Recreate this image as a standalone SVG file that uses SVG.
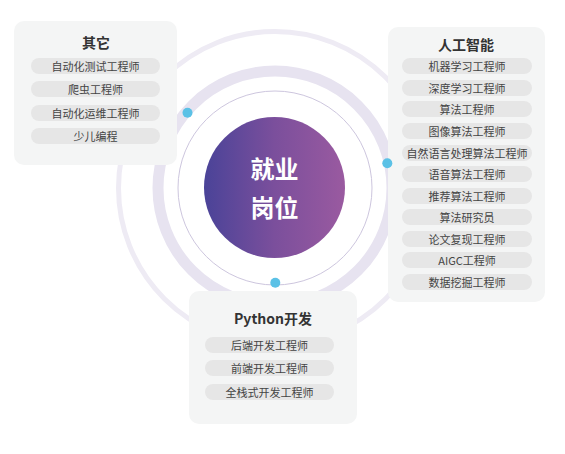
<svg xmlns="http://www.w3.org/2000/svg" width="565" height="454" viewBox="0 0 565 454">
<defs>
<linearGradient id="cg" x1="0" y1="0" x2="1" y2="0">
<stop offset="0" stop-color="#4a4398"/>
<stop offset="0.5" stop-color="#7b4f9c"/>
<stop offset="1" stop-color="#9a5aa0"/>
</linearGradient>
<style>
.box{fill:#f4f5f5;}
.pill{fill:#e6e6e6;}
.t{font-family:"Noto Sans CJK SC","Noto Sans",sans-serif;font-size:11px;fill:#444;text-anchor:middle;dominant-baseline:central;}
.h{font-family:"Noto Sans CJK SC","Noto Sans",sans-serif;font-size:14px;font-weight:bold;fill:#333;text-anchor:middle;dominant-baseline:central;}
.c{font-family:"Noto Sans CJK SC","Noto Sans",sans-serif;font-size:24px;font-weight:bold;fill:#fff;text-anchor:middle;dominant-baseline:central;}
.dot{fill:#5bc1e6;}
</style>
</defs>
<rect width="565" height="454" fill="#fff"/>
<g id="rings">
<circle cx="275" cy="188" r="156.5" fill="none" stroke="#eeebf4" stroke-width="5"/>
<circle cx="275" cy="188" r="117" fill="none" stroke="#e7e3f0" stroke-width="11"/>
<circle cx="275" cy="188" r="97" fill="none" stroke="#cdc6de" stroke-width="1"/>
</g>
<g id="center">
<circle cx="274.5" cy="187.5" r="70.5" fill="url(#cg)"/>
<text class="c" x="274.5" y="167">就业</text>
<text class="c" x="274.5" y="206">岗位</text>
</g>
<g id="node-other">
<rect class="box" x="14" y="21" width="163" height="144" rx="10"/>
<text class="h" x="96" y="42">其它</text>
<rect class="pill" x="31" y="58" width="129" height="16" rx="8"/>
<text class="t" x="95.5" y="66">自动化测试工程师</text>
<rect class="pill" x="31" y="81" width="129" height="16" rx="8"/>
<text class="t" x="95.5" y="89">爬虫工程师</text>
<rect class="pill" x="31" y="105" width="129" height="16" rx="8"/>
<text class="t" x="95.5" y="113">自动化运维工程师</text>
<rect class="pill" x="31" y="128" width="129" height="16" rx="8"/>
<text class="t" x="95.5" y="136">少儿编程</text>
</g>
<g id="node-ai">
<rect class="box" x="388" y="27" width="157" height="275" rx="10"/>
<text class="h" x="466" y="44">人工智能</text>
<rect class="pill" x="402" y="58" width="130" height="16" rx="8"/>
<text class="t" x="467" y="66">机器学习工程师</text>
<rect class="pill" x="402" y="80" width="130" height="16" rx="8"/>
<text class="t" x="467" y="88">深度学习工程师</text>
<rect class="pill" x="402" y="101" width="130" height="16" rx="8"/>
<text class="t" x="467" y="109">算法工程师</text>
<rect class="pill" x="402" y="123" width="130" height="16" rx="8"/>
<text class="t" x="467" y="131">图像算法工程师</text>
<rect class="pill" x="402" y="145" width="130" height="16" rx="8"/>
<text class="t" x="467" y="153">自然语言处理算法工程师</text>
<rect class="pill" x="402" y="166" width="130" height="16" rx="8"/>
<text class="t" x="467" y="174">语音算法工程师</text>
<rect class="pill" x="402" y="188" width="130" height="16" rx="8"/>
<text class="t" x="467" y="196">推荐算法工程师</text>
<rect class="pill" x="402" y="209" width="130" height="16" rx="8"/>
<text class="t" x="467" y="217">算法研究员</text>
<rect class="pill" x="402" y="231" width="130" height="16" rx="8"/>
<text class="t" x="467" y="239">论文复现工程师</text>
<rect class="pill" x="402" y="252" width="130" height="16" rx="8"/>
<text class="t" x="467" y="260">AIGC工程师</text>
<rect class="pill" x="402" y="274" width="130" height="16" rx="8"/>
<text class="t" x="467" y="282">数据挖掘工程师</text>
</g>
<g id="node-python">
<rect class="box" x="189" y="291" width="168" height="133" rx="10"/>
<text class="h" x="273" y="318">Python开发</text>
<rect class="pill" x="205" y="337" width="129" height="16" rx="8"/>
<text class="t" x="269.5" y="345">后端开发工程师</text>
<rect class="pill" x="205" y="360" width="129" height="16" rx="8"/>
<text class="t" x="269.5" y="368">前端开发工程师</text>
<rect class="pill" x="205" y="384" width="129" height="16" rx="8"/>
<text class="t" x="269.5" y="392">全栈式开发工程师</text>
</g>
<g id="connectors">
<circle class="dot" cx="187.5" cy="112.7" r="5"/>
<circle class="dot" cx="387.3" cy="163.3" r="5"/>
<circle class="dot" cx="275.3" cy="282.7" r="5"/>
</g>
</svg>
